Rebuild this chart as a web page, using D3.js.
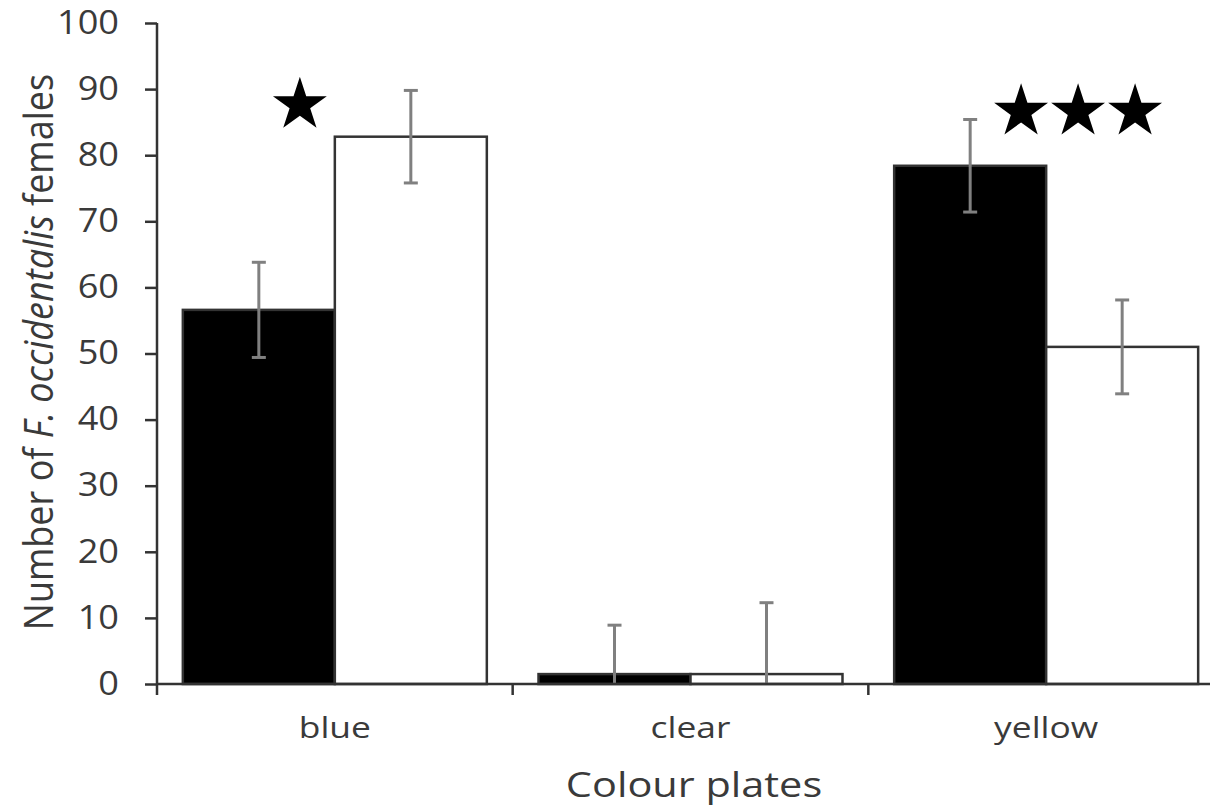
<!DOCTYPE html>
<html>
<head>
<meta charset="utf-8">
<script src="https://cdn.jsdelivr.net/npm/d3@7"></script>
<style>
  body { margin: 0; background: #fff; }
  svg text { font-family: "Open Sans", sans-serif; fill: #3a3a3a; }
</style>
</head>
<body>
<svg id="chart" width="1210" height="806"></svg>
<script>
// data
var plates = ["blue", "clear", "yellow"];
var treatments = ["dark", "light"];
var darkMeans = [56.6, 1.5, 78.4];
var darkErr = [7.2, 7.4, 7.0];
var lightMeans = [82.8, 1.5, 51.0];
var lightErr = [7.0, 10.8, 7.1];
var yTicks = [0, 10, 20, 30, 40, 50, 60, 70, 80, 90, 100];
// significance stars: plate, number of stars, height (axis units)
var starPlates = ["blue", "yellow"];
var starCounts = [1, 3];
var starLevels = [87.6, 86.6];

var svg = d3.select("#chart");
var plotL = 157, plotT = 23, plotB = 684, plotR = 1224;

var y = d3.scaleLinear().domain([0, 100]).range([plotB, plotT]);
var x = d3.scaleBand().domain(plates).range([plotL, plotR]).paddingInner(0).paddingOuter(0);
var xi = d3.scaleBand().domain(treatments).range([0, x.bandwidth()]).paddingOuter(0.17).paddingInner(0);

var rows = plates.map(function(p, i) {
  return [
    {plate: p, t: "dark", v: darkMeans[i], e: darkErr[i]},
    {plate: p, t: "light", v: lightMeans[i], e: lightErr[i]}
  ];
});

var groups = svg.append("g").selectAll("g")
    .data(rows)
  .enter().append("g")
    .attr("transform", function(d) { return "translate(" + x(d[0].plate) + ",0)"; });

groups.selectAll("rect")
    .data(function(d) { return d; })
  .enter().append("rect")
    .attr("x", function(d) { return xi(d.t); })
    .attr("y", function(d) { return y(d.v); })
    .attr("width", xi.bandwidth())
    .attr("height", function(d) { return y(0) - y(d.v); })
    .attr("fill", function(d) { return d.t == "dark" ? "#000" : "#fff"; })
    .attr("stroke", "#333")
    .attr("stroke-width", 2.5);

// error bars (clipped at the axis)
var err = groups.selectAll("g.err")
    .data(function(d) { return d; })
  .enter().append("g")
    .attr("class", "err")
    .attr("stroke", "#808080")
    .attr("stroke-width", 3);

function mid(d) { return xi(d.t) + xi.bandwidth() / 2; }

err.append("line")
    .attr("x1", mid)
    .attr("x2", mid)
    .attr("y1", function(d) { return y(d.v + d.e); })
    .attr("y2", function(d) { return y(Math.max(0, d.v - d.e)); });

err.append("line")
    .attr("x1", function(d) { return mid(d) - 7; })
    .attr("x2", function(d) { return mid(d) + 7; })
    .attr("y1", function(d) { return y(d.v + d.e); })
    .attr("y2", function(d) { return y(d.v + d.e); });

err.filter(function(d) { return d.v - d.e > 0; })
  .append("line")
    .attr("x1", function(d) { return mid(d) - 7; })
    .attr("x2", function(d) { return mid(d) + 7; })
    .attr("y1", function(d) { return y(d.v - d.e); })
    .attr("y2", function(d) { return y(d.v - d.e); });

// y axis
var yAxis = svg.append("g")
    .attr("transform", "translate(" + plotL + ",0)")
    .call(d3.axisLeft(y).tickValues(yTicks).tickSize(12).tickPadding(0));
yAxis.select(".domain").remove();
yAxis.selectAll(".tick line").attr("stroke", "#333").attr("stroke-width", 2.5);
yAxis.selectAll("text")
    .attr("x", 0)
    .attr("transform", "translate(-38,0) scale(1.13,1)")
    .style("font-size", "32px")
    .style("fill", "#3a3a3a");
svg.append("line")
    .attr("x1", plotL).attr("x2", plotL)
    .attr("y1", y(100)).attr("y2", plotB + 11)
    .attr("stroke", "#333").attr("stroke-width", 2.5);

// x axis
svg.append("line")
    .attr("x1", plotL).attr("x2", plotR)
    .attr("y1", plotB).attr("y2", plotB)
    .attr("stroke", "#333").attr("stroke-width", 2.5);
svg.append("g").selectAll("line")
    .data(plates.slice(1))
  .enter().append("line")
    .attr("x1", function(d) { return x(d); })
    .attr("x2", function(d) { return x(d); })
    .attr("y1", plotB).attr("y2", plotB + 11)
    .attr("stroke", "#333").attr("stroke-width", 2.5);

var xAxis = svg.append("g")
    .attr("transform", "translate(0," + plotB + ")")
    .call(d3.axisBottom(x).tickSize(0).tickPadding(0));
xAxis.select(".domain").remove();
xAxis.selectAll("text")
    .attr("y", 0).attr("dy", null)
    .attr("transform", "translate(0,54) scale(1.18,1)")
    .style("font-size", "30px")
    .style("fill", "#3a3a3a");

// axis titles
svg.append("text")
    .attr("transform", "translate(694,797) scale(1.22,1)")
    .attr("text-anchor", "middle")
    .style("font-size", "34px")
    .text("Colour plates");

var yt = svg.append("text")
    .attr("transform", "translate(53,352) scale(1.13,1) rotate(-90)")
    .attr("text-anchor", "middle")
    .style("font-size", "36px");
yt.append("tspan").text("Number of ");
yt.append("tspan").style("font-style", "italic").text("F. occidentalis");
yt.append("tspan").text(" females");

// stars
var starSym = d3.symbol().type(d3.symbolStar).size(900);
starPlates.forEach(function(p, i) {
  var n = starCounts[i];
  var cx = n == 1 ? x(p) + xi.bandwidth() * 0.94 : x(p) + xi.bandwidth() * 1.38;
  for (var k = 0; k < n; k++) {
    svg.append("path")
      .attr("d", starSym())
      .attr("fill", "#000")
      .attr("transform", "translate(" + (cx + (k - (n - 1) / 2) * 57) + "," + y(starLevels[i]) + ")");
  }
});
</script>
</body>
</html>
